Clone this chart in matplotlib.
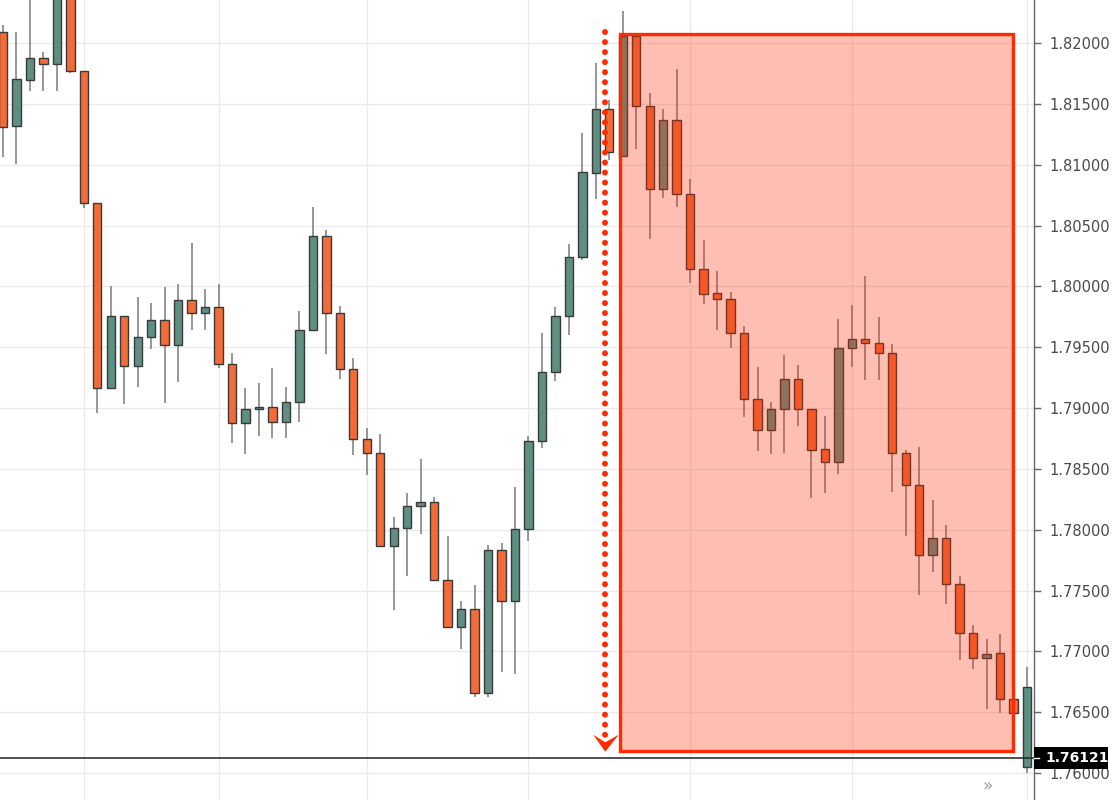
import matplotlib
matplotlib.use("Agg")
import matplotlib.pyplot as plt
from matplotlib.patches import Rectangle, Polygon
from matplotlib.ticker import FormatStrFormatter

# candle data (oldest first)
opens = [1.82091, 1.81318, 1.81696, 1.81877, 1.81828, 1.82518, 1.81770, 1.80685, 1.79165, 1.79756,
         1.79345, 1.79584, 1.79724, 1.79518, 1.79888, 1.79781, 1.79830, 1.79362, 1.78877, 1.78992,
         1.79008, 1.78885, 1.79050, 1.79641, 1.80414, 1.79781, 1.79321, 1.78745, 1.78630, 1.77866,
         1.78014, 1.78195, 1.78228, 1.77586, 1.77200, 1.77348, 1.76658, 1.77833, 1.77414, 1.78006,
         1.78729, 1.79296, 1.79756, 1.80241, 1.80932, 1.81458, 1.81072, 1.82058, 1.81483, 1.80800,
         1.81368, 1.80759, 1.80143, 1.79946, 1.79896, 1.79617, 1.79074, 1.78819, 1.78992, 1.79239,
         1.78992, 1.78663, 1.78556, 1.79493, 1.79567, 1.79535, 1.79452, 1.78630, 1.78367, 1.77792,
         1.77932, 1.77554, 1.77151, 1.76945, 1.76986, 1.76608, 1.76049]
highs = [1.82149, 1.82091, 1.82395, 1.81927, 1.82550, 1.82540, 1.81770, 1.80685, 1.80003, 1.79760,
         1.79913, 1.79863, 1.79995, 1.80020, 1.80357, 1.79978, 1.80020, 1.79452, 1.79165, 1.79206,
         1.79329, 1.79173, 1.79798, 1.80652, 1.80463, 1.79839, 1.79411, 1.78836, 1.78787, 1.78104,
         1.78302, 1.78581, 1.78269, 1.77948, 1.77414, 1.77545, 1.77874, 1.77891, 1.78351, 1.78770,
         1.79617, 1.79830, 1.80348, 1.81261, 1.81836, 1.81532, 1.82264, 1.82058, 1.81590, 1.81458,
         1.81787, 1.80883, 1.80381, 1.80126, 1.79954, 1.79674, 1.79337, 1.79050, 1.79436, 1.79354,
         1.78995, 1.78934, 1.79732, 1.79847, 1.80085, 1.79748, 1.79526, 1.78655, 1.78680, 1.78244,
         1.78039, 1.77619, 1.77217, 1.77101, 1.77143, 1.76620, 1.76871]
lows = [1.81063, 1.81006, 1.81606, 1.81606, 1.81606, 1.81754, 1.80644, 1.78959, 1.79160, 1.79033,
        1.79173, 1.79485, 1.79041, 1.79214, 1.79641, 1.79641, 1.79329, 1.78713, 1.78622, 1.78770,
        1.78754, 1.78754, 1.78885, 1.79640, 1.79444, 1.79239, 1.78614, 1.78449, 1.77862, 1.77340,
        1.77619, 1.77965, 1.77580, 1.77196, 1.77019, 1.76625, 1.76625, 1.76830, 1.76814, 1.77907,
        1.78671, 1.79222, 1.79600, 1.80217, 1.80718, 1.81039, 1.81070, 1.81129, 1.80389, 1.80726,
        1.80652, 1.80028, 1.79855, 1.79641, 1.79493, 1.78926, 1.78647, 1.78622, 1.78630, 1.78852,
        1.78260, 1.78302, 1.78458, 1.79337, 1.79230, 1.79230, 1.78310, 1.77948, 1.77463, 1.77652,
        1.77389, 1.76929, 1.76855, 1.76526, 1.76493, 1.76490, 1.76000]
closes = [1.81310, 1.81705, 1.81877, 1.81828, 1.82518, 1.81770, 1.80685, 1.79165, 1.79756, 1.79345,
          1.79584, 1.79724, 1.79518, 1.79888, 1.79781, 1.79830, 1.79362, 1.78877, 1.78992, 1.79008,
          1.78885, 1.79050, 1.79641, 1.80414, 1.79781, 1.79321, 1.78745, 1.78630, 1.77866, 1.78014,
          1.78195, 1.78228, 1.77586, 1.77200, 1.77348, 1.76658, 1.77833, 1.77414, 1.78006, 1.78729,
          1.79296, 1.79756, 1.80241, 1.80940, 1.81458, 1.81105, 1.82058, 1.81483, 1.80800, 1.81368,
          1.80759, 1.80143, 1.79937, 1.79896, 1.79617, 1.79074, 1.78819, 1.78992, 1.79239, 1.78992,
          1.78655, 1.78556, 1.79493, 1.79567, 1.79535, 1.79452, 1.78630, 1.78367, 1.77792, 1.77932,
          1.77554, 1.77151, 1.76945, 1.76978, 1.76608, 1.76493, 1.76707]

last_price = 1.76121
price_ticks = [1.760, 1.765, 1.770, 1.775, 1.780, 1.785, 1.790, 1.795,
               1.800, 1.805, 1.810, 1.815, 1.820]
date_grid = [6, 16, 27, 39, 51, 63, 76]  # candle index of vertical grid lines

# highlighted zone (candle index / price)
zone_left, zone_right = 45.8, 74.98
zone_top, zone_bottom = 1.82074, 1.76181
arrow_x, arrow_top, arrow_tip = 44.7, 1.82091, 1.76175

UP = "#5f8f82"
DOWN = "#f26b38"
RED = "#ff2a00"

fig = plt.figure(figsize=(11.12, 8.0), dpi=100)
ax = fig.add_axes([0, 0, 1034 / 1112, 1])
ax.set_xlim(-0.22, 76.52)
ax.set_ylim(1.75778, 1.82354)

# grid
for g in date_grid:
    ax.axvline(g, color="#ebebeb", lw=1, zorder=0)
for t in price_ticks:
    ax.axhline(t, color="#ebebeb", lw=1, zorder=0)

# candles
for i in range(len(opens)):
    o, h, l, c = opens[i], highs[i], lows[i], closes[i]
    col = UP if c >= o else DOWN
    ax.vlines(i, l, h, color="#7a7a7a", lw=1.1, zorder=2)
    bottom = min(o, c)
    height = max(abs(c - o), 0.00004)
    ax.bar(i, height, bottom=bottom, width=0.62, color=col,
           edgecolor="#3a3a3a", linewidth=1.0, zorder=3)

# shaded zone
ax.add_patch(Rectangle((zone_left, zone_bottom), zone_right - zone_left, zone_top - zone_bottom,
                       facecolor=RED, alpha=0.3, edgecolor="none", zorder=4))
ax.add_patch(Rectangle((zone_left, zone_bottom), zone_right - zone_left, zone_top - zone_bottom,
                       facecolor="none", edgecolor=RED, linewidth=2.4, zorder=5))

# dotted arrow
head_len = 0.0014
ax.plot([arrow_x, arrow_x], [arrow_top, arrow_tip + head_len * 0.9], color=RED,
        lw=4.3, linestyle=(0, (0.001, 1.68)), dash_capstyle="round", zorder=5)
ax.add_patch(Polygon([(arrow_x, arrow_tip),
                      (arrow_x - 0.9, arrow_tip + head_len),
                      (arrow_x, arrow_tip + head_len * 0.55),
                      (arrow_x + 1.0, arrow_tip + head_len)],
                     closed=True, facecolor=RED, edgecolor="none", zorder=6))

# current price line
ax.axhline(last_price, color="#222222", lw=1.1, zorder=6)

# axes styling
for side in ["top", "left", "bottom"]:
    ax.spines[side].set_visible(False)
ax.spines["right"].set_color("#666666")
ax.spines["right"].set_linewidth(1.0)
ax.set_xticks([])
ax.yaxis.tick_right()
ax.set_yticks(price_ticks)
ax.yaxis.set_major_formatter(FormatStrFormatter("%.5f"))
ax.tick_params(axis="y", length=5, width=1, color="#666666", labelsize=10.5,
               labelcolor="#4a4a4a", pad=6)

# current price tag on the axis
tag_h = 0.00092
ax.add_patch(Rectangle((1.0, last_price - tag_h), 74 / 1034, 2 * tag_h,
                       transform=ax.get_yaxis_transform(), facecolor="black",
                       edgecolor="none", clip_on=False, zorder=10))
ax.plot([1.0, 1.0 + 5 / 1034], [last_price, last_price], color="white", lw=1,
        transform=ax.get_yaxis_transform(), clip_on=False, zorder=11)
ax.text(1045 / 1034, last_price, "%.5f" % last_price, transform=ax.get_yaxis_transform(),
        ha="left", va="center", color="white", fontsize=10, fontweight="bold",
        clip_on=False, zorder=12)

fig.text(988 / 1112, 1 - 786 / 800, "\u00bb", color="#9a9a9a", fontsize=12,
         ha="center", va="center")

fig.savefig("out.png", dpi=100, facecolor="white")
